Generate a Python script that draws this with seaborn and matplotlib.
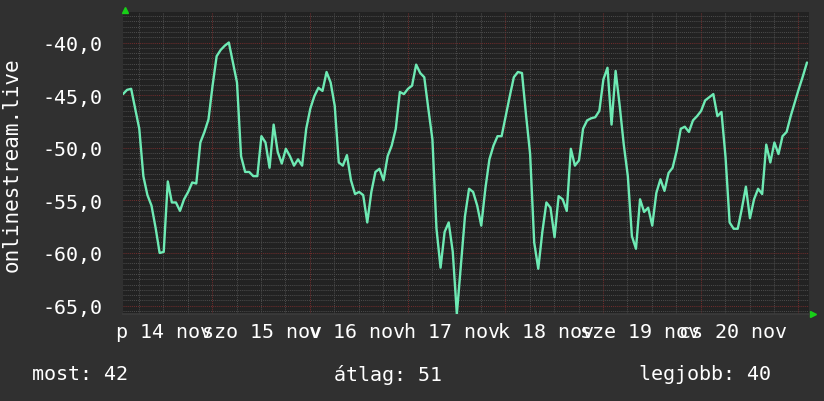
import numpy as np
import pandas as pd
import matplotlib
matplotlib.use("Agg")
import matplotlib.pyplot as plt
import seaborn as sns
from matplotlib.ticker import FuncFormatter


# hourly readings for one week, first one at 14 nov ~02:00
signal = [
    -44.9, -44.5, -44.4, -46.3, -48.2, -52.7, -54.5, -55.5, -57.6, -60.0,
    -59.9, -53.2, -55.2, -55.2, -56.0, -54.9, -54.2, -53.3, -53.4, -49.5,
    -48.5, -47.3, -44.1, -41.3, -40.7, -40.3, -40.0, -41.9, -43.8, -50.8,
    -52.3, -52.3, -52.7, -52.7, -48.9, -49.5, -51.9, -47.8, -50.4, -51.5,
    -50.1, -50.8, -51.7, -51.1, -51.7, -48.2, -46.3, -45.1, -44.3, -44.6,
    -42.8, -43.8, -46.0, -51.4, -51.7, -50.7, -53.1, -54.4, -54.2, -54.5,
    -57.1, -54.2, -52.3, -52.0, -53.1, -50.8, -49.8, -48.2, -44.7, -44.9,
    -44.4, -44.1, -42.1, -42.9, -43.3, -46.3, -49.2, -57.7, -61.4, -58.0,
    -57.1, -59.9, -65.8, -61.2, -56.5, -53.9, -54.2, -55.5, -57.4, -53.9,
    -51.1, -49.8, -48.9, -48.9, -47.0, -45.1, -43.3, -42.8, -42.9, -46.9,
    -50.6, -59.0, -61.5, -58.0, -55.2, -55.7, -58.5, -54.6, -54.9, -56.0,
    -50.1, -51.7, -51.2, -48.2, -47.4, -47.2, -47.1, -46.5, -43.5, -42.4,
    -47.8, -42.7, -46.0, -49.7, -52.7, -58.4, -59.6, -54.9, -56.1, -55.7,
    -57.4, -54.3, -53.0, -54.1, -52.4, -51.9, -50.3, -48.2, -48.0, -48.5,
    -47.4, -47.0, -46.5, -45.5, -45.2, -44.9, -47.0, -46.6, -50.9, -57.1,
    -57.7, -57.7, -55.8, -53.7, -56.7, -54.9, -53.9, -54.4, -49.7, -51.4,
    -49.5, -50.6, -48.9, -48.5, -47.0, -45.7, -44.4, -43.2, -41.9,
]
first_midnight = 21.9  # hours from first reading to 15 nov 00:00
day_labels = ["p 14 nov", "szo 15 nov", "v 16 nov", "h 17 nov",
              "k 18 nov", "sze 19 nov", "cs 20 nov"]
label_hours = [10.0, 34.2, 57.4, 80.7, 103.8, 126.9, 149.9]

back = "#303030"
canvas = "#222222"
line_col = "#6eeab4"
red_grid = "#6e2c2c"
gray_grid = "#4a4a4a"
arrow_col = "#18d018"

df = pd.DataFrame({"hour": np.arange(len(signal), dtype=float), "signal": signal})

sns.set_theme(style="dark")
plt.rcParams["font.family"] = ["DejaVu Sans Mono"]

fig = plt.figure(figsize=(8.24, 4.02), dpi=100, facecolor=back)
ax = fig.add_axes([123 / 824, 1 - 315 / 402, 686 / 824, 302 / 402])
ax.set_facecolor(canvas)

sns.lineplot(data=df, x="hour", y="signal", ax=ax, color=line_col, lw=1.7, zorder=3)

ax.set_xlim(0, 168.5)
ax.set_ylim(-65.8, -37.1)

# grid: days + 6 hours, 5 units + half units
ax.set_xticks(np.arange(first_midnight, 168.5, 24))
ax.set_xticks(np.arange(first_midnight - 18, 168.5, 6), minor=True)
ax.set_yticks(np.arange(-65, -39, 5))
ax.set_yticks(np.arange(-65.5, -37, 0.5), minor=True)
ax.grid(which="minor", color=gray_grid, ls=(0, (1, 1)), lw=0.75)
ax.grid(which="major", color=red_grid, ls=(0, (1, 1)), lw=0.75)
ax.set_axisbelow(True)

ax.yaxis.set_major_formatter(FuncFormatter(lambda v, p: f"{v:.1f}".replace(".", ",")))
ax.tick_params(axis="y", which="both", length=0, pad=15, colors="white", labelsize=14.4)
ax.tick_params(axis="x", which="both", length=0, labelbottom=False)
ax.set_xlabel("")
ax.set_ylabel("")

for side in ["top", "right", "left"]:
    ax.spines[side].set_visible(False)
ax.spines["bottom"].set_color("#3c3c3c")
ax.spines["bottom"].set_linewidth(1.2)

sec = ax.secondary_xaxis("bottom")
sec.set_xticks(label_hours, labels=day_labels)
sec.tick_params(length=0, pad=6, colors="white", labelsize=14.4)
sec.spines["bottom"].set_visible(False)

# little rrd-style axis arrows
ax.plot([0.003], [1.008], marker="^", ms=4, color=arrow_col, transform=ax.transAxes, clip_on=False)
ax.plot([1.006], [0.0], marker=">", ms=4, color=arrow_col, transform=ax.transAxes, clip_on=False)

fig.text(12 / 824, 1 - 165 / 402, "onlinestream.live", rotation=90,
         ha="center", va="center", color="white", fontsize=15)

vals = np.abs(np.array(signal))
fig.text(32 / 824, 1 - 375 / 402, f"most: {vals[-1]:.0f}", ha="left", va="center",
         color="white", fontsize=14.4)
fig.text(388 / 824, 1 - 375 / 402, f"átlag: {vals.mean():.0f}", ha="center", va="center",
         color="white", fontsize=14.4)
fig.text(771 / 824, 1 - 375 / 402, f"legjobb: {vals.min():.0f}", ha="right", va="center",
         color="white", fontsize=14.4)

fig.savefig("out.png", dpi=100, facecolor=back)
